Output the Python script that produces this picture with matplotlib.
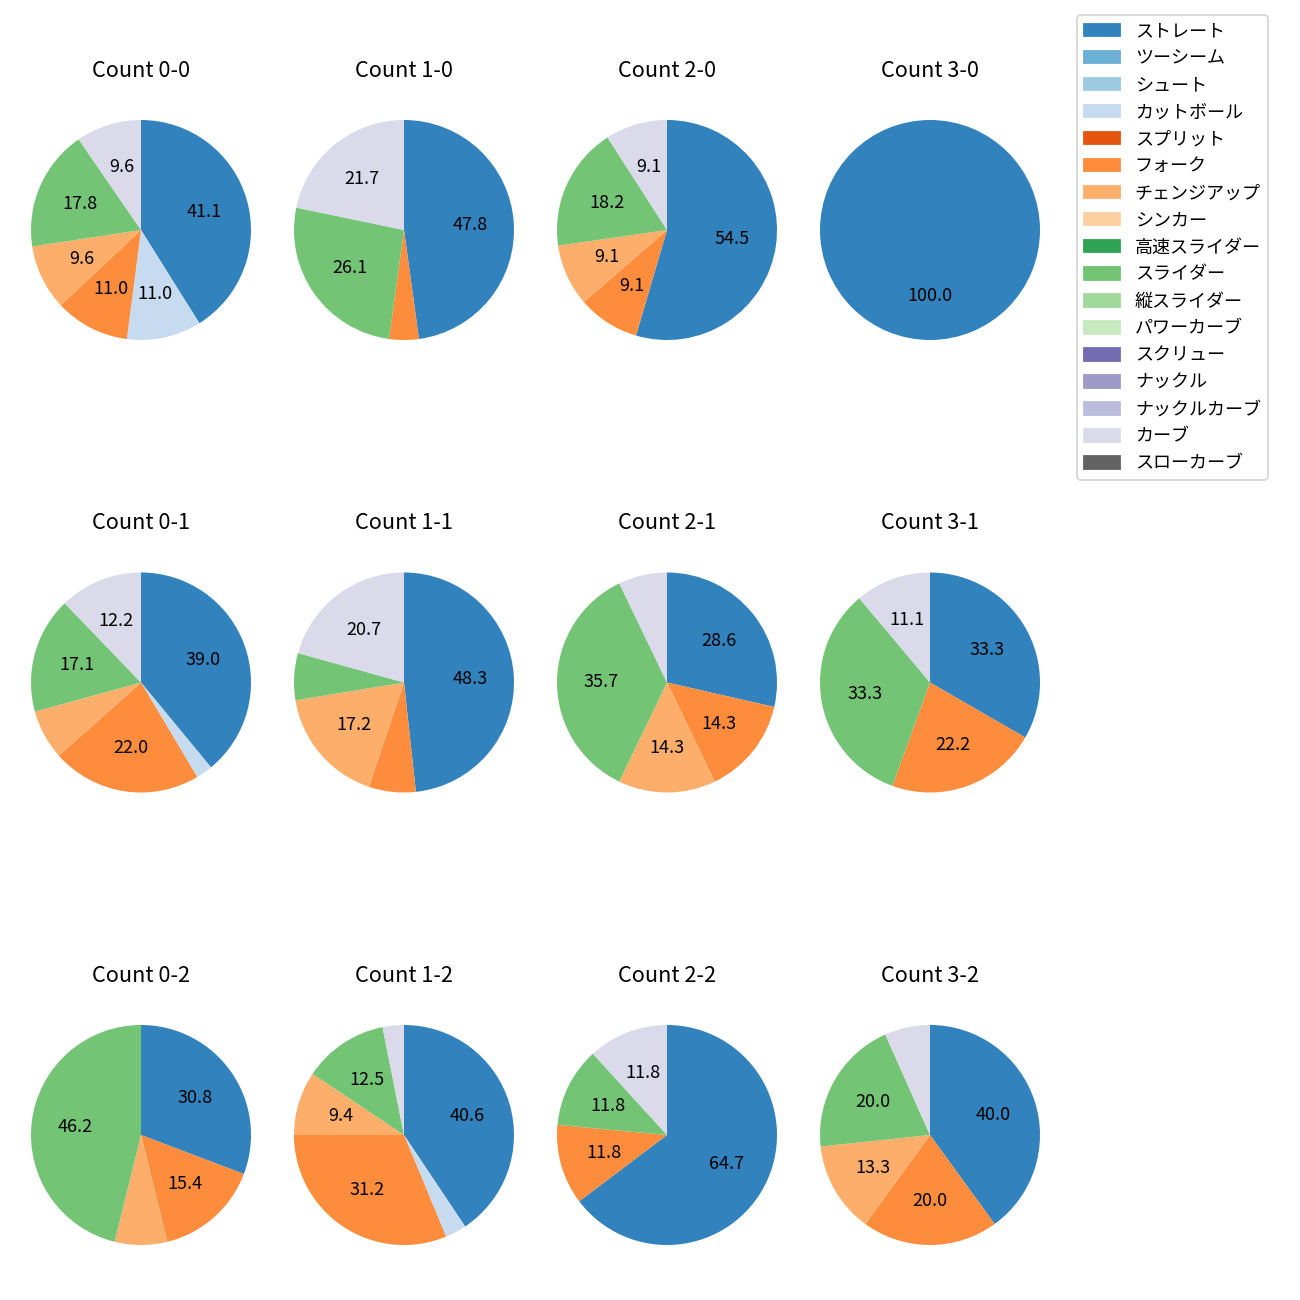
import matplotlib.pyplot as plt
import matplotlib.patches as mpatches

plt.rcParams['font.family'] = ['Noto Sans CJK JP', 'DejaVu Sans']

pitch_types = ['ストレート', 'ツーシーム', 'シュート', 'カットボール', 'スプリット', 'フォーク',
               'チェンジアップ', 'シンカー', '高速スライダー', 'スライダー', '縦スライダー',
               'パワーカーブ', 'スクリュー', 'ナックル', 'ナックルカーブ', 'カーブ', 'スローカーブ']

# pitch counts per ball-strike count, same order as pitch_types
count_labels = ['Count 0-0', 'Count 1-0', 'Count 2-0', 'Count 3-0',
                'Count 0-1', 'Count 1-1', 'Count 2-1', 'Count 3-1',
                'Count 0-2', 'Count 1-2', 'Count 2-2', 'Count 3-2']
c00 = [30, 0, 0, 8, 0, 8, 7, 0, 0, 13, 0, 0, 0, 0, 0, 7, 0]
c10 = [11, 0, 0, 0, 0, 1, 0, 0, 0, 6, 0, 0, 0, 0, 0, 5, 0]
c20 = [6, 0, 0, 0, 0, 1, 1, 0, 0, 2, 0, 0, 0, 0, 0, 1, 0]
c30 = [1, 0, 0, 0, 0, 0, 0, 0, 0, 0, 0, 0, 0, 0, 0, 0, 0]
c01 = [16, 0, 0, 1, 0, 9, 3, 0, 0, 7, 0, 0, 0, 0, 0, 5, 0]
c11 = [14, 0, 0, 0, 0, 2, 5, 0, 0, 2, 0, 0, 0, 0, 0, 6, 0]
c21 = [4, 0, 0, 0, 0, 2, 2, 0, 0, 5, 0, 0, 0, 0, 0, 1, 0]
c31 = [3, 0, 0, 0, 0, 2, 0, 0, 0, 3, 0, 0, 0, 0, 0, 1, 0]
c02 = [4, 0, 0, 0, 0, 2, 1, 0, 0, 6, 0, 0, 0, 0, 0, 0, 0]
c12 = [13, 0, 0, 1, 0, 10, 3, 0, 0, 4, 0, 0, 0, 0, 0, 1, 0]
c22 = [11, 0, 0, 0, 0, 2, 0, 0, 0, 2, 0, 0, 0, 0, 0, 2, 0]
c32 = [6, 0, 0, 0, 0, 3, 2, 0, 0, 3, 0, 0, 0, 0, 0, 1, 0]
all_counts = [c00, c10, c20, c30, c01, c11, c21, c31, c02, c12, c22, c32]

cmap = plt.get_cmap('tab20c')
colors = [cmap(i) for i in range(17)]

fig = plt.figure(figsize=(10, 10), dpi=130)

W = 1300.0
box = 275.0
for i, (label, vals) in enumerate(zip(count_labels, all_counts)):
    row, col = divmod(i, 4)
    cx = 141 + col * 263
    cy = 230 + row * 452.5
    ax = fig.add_axes([(cx - box / 2) / W, 1 - (cy + box / 2) / W, box / W, box / W])
    sizes = [v for v in vals if v > 0]
    cols = [colors[k] for k, v in enumerate(vals) if v > 0]
    ax.pie(sizes, colors=cols, startangle=90, counterclock=False,
           autopct=lambda p: f'{p:.1f}' if p > 8 else '', pctdistance=0.6)
    ax.set_title(label, pad=8.8)

handles = [mpatches.Patch(color=c, label=n) for c, n in zip(colors, pitch_types)]
fig.legend(handles=handles, loc='upper left', bbox_to_anchor=(1068 / W, 1 - 6 / W))

plt.savefig('out.png', dpi=130)
